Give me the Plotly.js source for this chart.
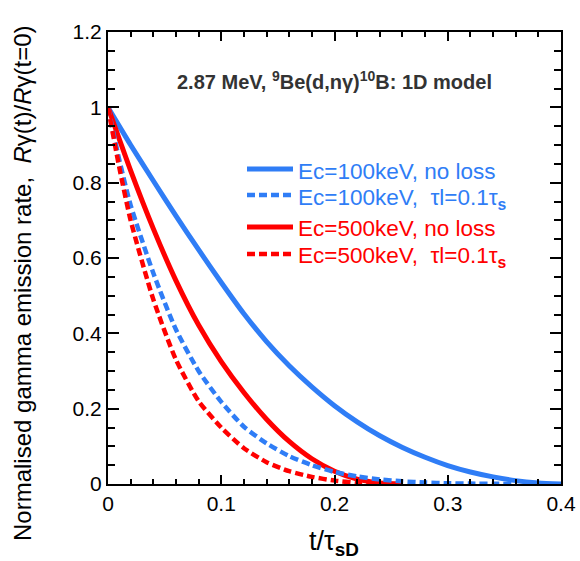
<!DOCTYPE html>
<html><head><meta charset="utf-8">
<script src="https://cdn.plot.ly/plotly-3.0.1.min.js"></script>
<style>body{margin:0;background:#fff}</style></head>
<body><div id="chart" style="width:580px;height:561px"></div>
<script>
// ---- data ----
const tBlueSolid = [0, 0.02, 0.04, 0.06, 0.08, 0.10, 0.12, 0.14, 0.16, 0.18, 0.20, 0.22, 0.24, 0.26, 0.28, 0.30, 0.32, 0.34, 0.36, 0.38, 0.40];
const vBlueSolid = [1, 0.90, 0.805, 0.712, 0.622, 0.535, 0.452, 0.378, 0.314, 0.258, 0.208, 0.165, 0.128, 0.097, 0.071, 0.049, 0.032, 0.019, 0.009, 0.003, 0];

const tBlueDash = [0, 0.01, 0.02, 0.04, 0.06, 0.08, 0.10, 0.12, 0.14, 0.16, 0.18, 0.20, 0.22, 0.24, 0.26, 0.28, 0.30, 0.32, 0.34, 0.36];
const vBlueDash = [1, 0.86, 0.74, 0.56, 0.41, 0.30, 0.218, 0.152, 0.108, 0.074, 0.05, 0.032, 0.02, 0.012, 0.007, 0.004, 0.002, 0.001, 0.0005, 0];

const tRedSolid = [0, 0.02, 0.04, 0.06, 0.08, 0.10, 0.12, 0.14, 0.16, 0.18, 0.20, 0.22, 0.24, 0.26];
const vRedSolid = [1, 0.832, 0.678, 0.54, 0.422, 0.325, 0.243, 0.172, 0.113, 0.067, 0.034, 0.013, 0.003, 0];

const tRedDash = [0, 0.01, 0.02, 0.04, 0.06, 0.08, 0.10, 0.12, 0.14, 0.16, 0.18, 0.20, 0.22, 0.24];
const vRedDash = [1, 0.84, 0.70, 0.49, 0.33, 0.22, 0.15, 0.095, 0.058, 0.034, 0.019, 0.009, 0.003, 0];

const seriesNames = [
  'Ec=100keV, no loss',
  'Ec=100keV,\u00a0 τl=0.1τ<sub><b>s</b></sub>',
  'Ec=500keV, no loss',
  'Ec=500keV,\u00a0 τl=0.1τ<sub><b>s</b></sub>'
];
const xTickVals = [0, 0.1, 0.2, 0.3, 0.4];
const xTickText = ['0', '0.1', '0.2', '0.3', '0.4'];
const yTickVals = [0, 0.2, 0.4, 0.6, 0.8, 1, 1.2];
const yTickText = ['0', '0.2', '0.4', '0.6', '0.8', '1', '1.2'];

// ---- styling ----
const BLUE = '#2f7df6', RED = '#ff0000';
const colors = [BLUE, BLUE, RED, RED];
const dashes = ['solid', '8px,4px', 'solid', '8px,4px'];
const widths = [5, 4.5, 5, 4.5];
const FONT = 'Liberation Sans, Arial, sans-serif';

const xs = [tBlueSolid, tBlueDash, tRedSolid, tRedDash];
const ys = [vBlueSolid, vBlueDash, vRedSolid, vRedDash];
const order = [0, 2, 1, 3];
const traces = order.map(i => ({
  x: xs[i], y: ys[i], type: 'scatter', mode: 'lines', name: seriesNames[i],
  line: {color: colors[i], width: widths[i], dash: dashes[i], shape: 'spline', smoothing: 0.6},
  showlegend: false, hoverinfo: 'skip'
}));

// plot box in pixels: left 108, right 561, top 32, bottom 484
const L = 108, T = 32, W = 453, H = 452;
const px = x => (x - L) / W;
const py = y => (T + H - y) / H;

// manual legend
const legLineY = [169, 195, 227, 254];
const legTextY = [171, 199, 228, 257];
const shapes = [], annotations = [];
seriesNames.forEach((n, i) => {
  shapes.push({type: 'line', xref: 'paper', yref: 'paper', x0: px(247), x1: px(293), y0: py(legLineY[i]), y1: py(legLineY[i]),
    line: {color: colors[i], width: widths[i], dash: dashes[i]}});
  annotations.push({xref: 'paper', yref: 'paper', x: px(296), y: py(legTextY[i]), xanchor: 'left', yanchor: 'middle',
    text: n, showarrow: false, font: {family: FONT, size: 22.5, color: colors[i]}});
});
annotations.push({xref: 'paper', yref: 'paper', x: px(334), y: py(80), xanchor: 'center', yanchor: 'middle', showarrow: false,
  text: '<b>2.87 MeV, <sup>9</sup>Be(d,nγ)<sup>10</sup>B: 1D model</b>', font: {family: FONT, size: 20, color: '#333333'}});
annotations.push({xref: 'paper', yref: 'paper', x: px(22), y: py(283), xanchor: 'center', yanchor: 'middle', showarrow: false, textangle: -90,
  text: 'Normalised gamma emission rate,\u00a0 <i>R</i>γ(t)/<i>R</i>γ(t=0)', font: {family: FONT, size: 24, color: '#000'}});
annotations.push({xref: 'paper', yref: 'paper', x: px(334), y: py(543), xanchor: 'center', yanchor: 'middle', showarrow: false,
  text: 't/τ<sub><b>sD</b></sub>', font: {family: FONT, size: 27, color: '#000'}});

const axisCommon = {
  showline: true, linecolor: '#000', linewidth: 2, mirror: 'ticks', ticks: 'inside', tickcolor: '#000', tickwidth: 2,
  showgrid: false, zeroline: false, tickfont: {family: FONT, size: 21, color: '#000'}, fixedrange: true
};

const layout = {
  width: 580, height: 561,
  margin: {l: L, r: 580 - L - W, t: T, b: 561 - T - H},
  paper_bgcolor: '#fff', plot_bgcolor: '#fff',
  showlegend: false,
  xaxis: Object.assign({}, axisCommon, {range: [0, 0.4], tickmode: 'array', tickvals: xTickVals, ticktext: xTickText, ticklen: 9,
    minor: {dtick: 0.02, ticks: 'inside', ticklen: 5, tickwidth: 2, tickcolor: '#000', showgrid: false}}),
  yaxis: Object.assign({}, axisCommon, {range: [0, 1.2], tickmode: 'array', tickvals: yTickVals, ticktext: yTickText, ticklen: 11,
    minor: {dtick: 0.05, ticks: 'inside', ticklen: 7, tickwidth: 2, tickcolor: '#000', showgrid: false}}),
  shapes: shapes, annotations: annotations
};

Plotly.newPlot('chart', traces, layout, {staticPlot: true, displayModeBar: false});
</script></body></html>
